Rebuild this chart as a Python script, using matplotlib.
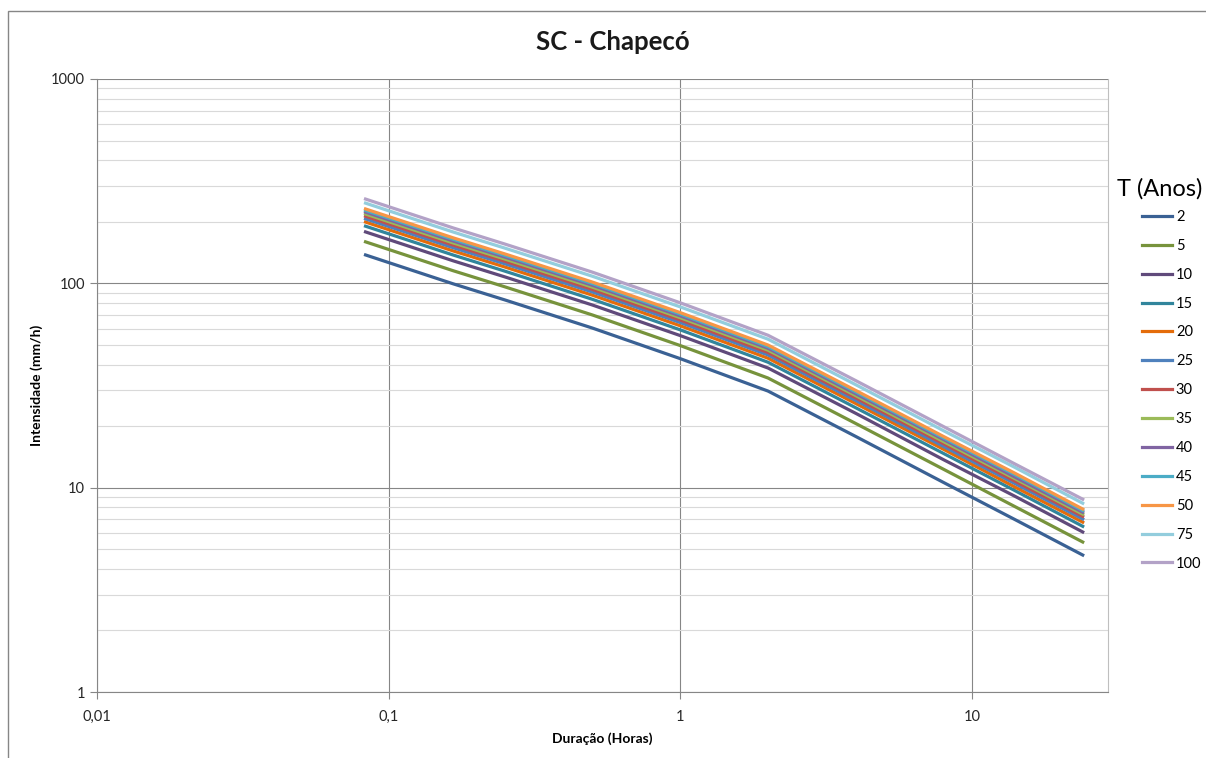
import matplotlib
matplotlib.use("Agg")
import matplotlib.pyplot as plt
import numpy as np
from matplotlib.ticker import FixedLocator, FuncFormatter, NullFormatter, LogLocator
from matplotlib.patches import Rectangle

plt.rcParams['font.family'] = ['Lato', 'DejaVu Sans']

# ------------------- dados -------------------
duracao_h = [5/60, 10/60, 15/60, 30/60, 1, 2, 4, 8, 14, 24]
periodos = ['2', '5', '10', '15', '20', '25', '30', '35', '40', '45', '50', '75', '100']

i_2   = [137.7, 99.4, 83.0, 60.4, 42.8, 29.7, 17.8, 10.6, 7.0, 4.68]
i_5   = [159.6, 115.2, 96.2, 70.0, 49.6, 34.4, 20.6, 12.3, 8.1, 5.42]
i_10  = [178.5, 128.8, 107.6, 78.3, 55.5, 38.5, 23.1, 13.7, 9.1, 6.07]
i_15  = [190.4, 137.5, 114.8, 83.5, 59.2, 41.1, 24.6, 14.7, 9.7, 6.47]
i_20  = [199.5, 144.0, 120.3, 87.5, 62.0, 43.0, 25.8, 15.4, 10.1, 6.78]
i_25  = [206.8, 149.3, 124.7, 90.7, 64.3, 44.6, 26.7, 15.9, 10.5, 7.03]
i_30  = [213.0, 153.8, 128.4, 93.4, 66.2, 45.9, 27.5, 16.4, 10.8, 7.24]
i_35  = [218.4, 157.6, 131.6, 95.8, 67.9, 47.1, 28.2, 16.8, 11.1, 7.42]
i_40  = [223.1, 161.0, 134.5, 97.8, 69.3, 48.1, 28.8, 17.2, 11.3, 7.58]
i_45  = [227.3, 164.1, 137.0, 99.7, 70.7, 49.0, 29.4, 17.5, 11.6, 7.73]
i_50  = [231.2, 166.9, 139.4, 101.4, 71.9, 49.9, 29.9, 17.8, 11.8, 7.86]
i_75  = [246.9, 178.2, 148.8, 108.3, 76.7, 53.3, 31.9, 19.0, 12.6, 8.39]
i_100 = [258.5, 186.6, 155.8, 113.4, 80.3, 55.7, 33.4, 19.9, 13.1, 8.78]

series = [i_2, i_5, i_10, i_15, i_20, i_25, i_30, i_35, i_40, i_45, i_50, i_75, i_100]
cores = ['#3A6194', '#77933C', '#604A7B', '#31859C', '#E46C0A', '#4F81BD',
         '#C0504D', '#9BBB59', '#8064A2', '#4BACC6', '#F79646', '#93CDDD', '#B3A2C7']
# ---------------------------------------------

W, H = 1206, 758
fig = plt.figure(figsize=(W/100, H/100), dpi=100)
ax = fig.add_axes([97/W, 1-692/H, (1108-97)/W, (692-79)/H])

# borda do grafico (Excel)
fig.patches.append(Rectangle((8/W, -0.01), 1.2, 1-11/H+0.01, transform=fig.transFigure,
                             fill=False, edgecolor='#868686', lw=1.0))

for s, c, t in zip(series, cores, periodos):
    ax.plot(duracao_h, s, color=c, lw=2.3, label=t, solid_joinstyle='round')

ax.set_xscale('log')
ax.set_yscale('log')
ax.set_xlim(0.01, 29.3)
ax.set_ylim(1, 1000)

ax.xaxis.set_major_locator(FixedLocator([0.01, 0.1, 1, 10]))
ax.xaxis.set_minor_locator(FixedLocator([]))
ax.yaxis.set_major_locator(FixedLocator([1, 10, 100, 1000]))
ax.yaxis.set_minor_locator(LogLocator(base=10, subs=np.arange(2, 10)))
ax.yaxis.set_minor_formatter(NullFormatter())

fmt = lambda v, p: ('%g' % v).replace('.', ',')
ax.xaxis.set_major_formatter(FuncFormatter(fmt))
ax.yaxis.set_major_formatter(FuncFormatter(fmt))

ax.grid(True, which='major', color='#868686', lw=0.8)
ax.yaxis.grid(True, which='minor', color='#D9D9D9', lw=0.8)
ax.set_axisbelow(True)

for lado in ['left', 'bottom']:
    ax.spines[lado].set_color('#868686')
ax.spines['top'].set_visible(False)
ax.spines['right'].set_color('#BFBFBF')

ax.tick_params(axis='both', which='major', length=5, color='#868686', labelsize=10.5,
               labelcolor='#262626')
ax.tick_params(axis='x', pad=8)
ax.tick_params(axis='y', which='minor', length=0)

fig.text(613/W, 1-42/H, 'SC - Chapecó', fontsize=18.5, fontweight='bold',
         ha='center', va='center', color='#1A1A1A')
ax.set_xlabel('Duração (Horas)', fontsize=10, fontweight='bold', labelpad=6)
ax.set_ylabel('Intensidade (mm/h)', fontsize=10, fontweight='bold', labelpad=6)

fig.text(1117/W, 1-189/H, 'T (Anos)', fontsize=17, ha='left', va='center')
leg = fig.legend(loc='upper left', bbox_to_anchor=(1142/W, 1-210/H),
                 frameon=False, fontsize=10.5, handlelength=2.05,
                 handletextpad=0.27, labelspacing=1.02, borderaxespad=0, borderpad=0)

fig.savefig('out.png', dpi=100)
